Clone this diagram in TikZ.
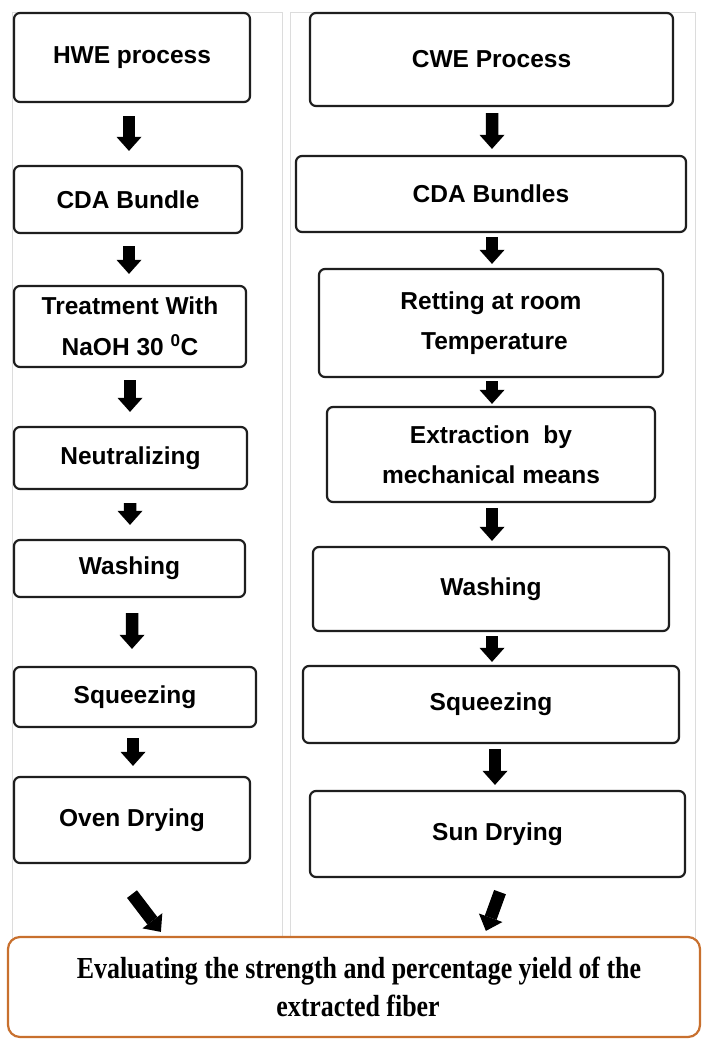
\documentclass[tikz,border=0pt]{standalone}
\usepackage{fontspec}
\setmainfont{Liberation Sans}
\newfontfamily\evalfont[FakeStretch=0.85]{Liberation Serif}
\usetikzlibrary{arrows.meta,calc}
\definecolor{boxline}{HTML}{1E1E1E}
\definecolor{evalorange}{HTML}{C8702E}
\definecolor{panelgray}{HTML}{DCDCDC}
\tikzset{
  stepbox/.style={draw=boxline, line width=2.2bp, rounded corners=6bp, fill=white,
    inner sep=0pt, align=center, text=black,
    font=\fontsize{24.5bp}{40bp}\selectfont\bfseries},
  evalbox/.style={draw=evalorange, line width=2.2bp, rounded corners=12bp, fill=white,
    inner sep=0pt, align=center, text=black,
    font=\evalfont\fontsize{30.5bp}{38bp}\selectfont\bfseries},
  panel/.style={draw=panelgray, line width=1bp},
  blockarr/.style={draw=black, line width=12.5bp,
    -{Triangle[width=25bp,length=14bp,line width=0pt]}},
}
\begin{document}
\begin{tikzpicture}[x=1bp,y=-1bp]
\useasboundingbox[fill=white] (0,0) rectangle (702,1039);

% panels
\draw[panel] (12,12) rectangle (282,938);
\draw[panel] (290,12) rectangle (695,938);

% left column
\node[stepbox, minimum width=236bp, minimum height=89bp] (hwe)   at (132,57.5)  {HWE process};
\node[stepbox, minimum width=228bp, minimum height=67bp] (cda1)  at (128,199.5) {CDA Bundle};
\node[stepbox, minimum width=232bp, minimum height=81bp,
      font=\fontsize{24.5bp}{41bp}\selectfont\bfseries] (naoh)  at (130,326.5) {Treatment With\\NaOH 30 \textsuperscript{0}C};
\node[stepbox, minimum width=233bp, minimum height=62bp] (neut)  at (130.5,458) {Neutralizing};
\node[stepbox, minimum width=231bp, minimum height=57bp] (wash1) at (129.5,568.5) {Washing};
\node[stepbox, minimum width=242bp, minimum height=60bp] (sqz1)  at (135,697)   {Squeezing};
\node[stepbox, minimum width=236bp, minimum height=86bp] (oven)  at (132,820)   {Oven Drying};

% right column
\node[stepbox, minimum width=363bp, minimum height=93bp]  (cwe)   at (491.5,59.5) {CWE Process};
\node[stepbox, minimum width=390bp, minimum height=76bp]  (cda2)  at (491,194)    {CDA Bundles};
\node[stepbox, minimum width=344bp, minimum height=108bp] (ret)   at (491,323)    {Retting at room\\\ Temperature};
\node[stepbox, minimum width=328bp, minimum height=95bp]  (ext)   at (491,454.5)  {Extraction\ \ by\\mechanical means};
\node[stepbox, minimum width=356bp, minimum height=84bp]  (wash2) at (491,589)    {Washing};
\node[stepbox, minimum width=376bp, minimum height=77bp]  (sqz2)  at (491,704.5)  {Squeezing};
\node[stepbox, minimum width=375bp, minimum height=86bp]  (sun)   at (497.5,834)  {Sun Drying};

% bottom box
\node[evalbox, minimum width=692bp, minimum height=100bp] (eval) at (354,987)
  {\hspace*{10bp}Evaluating the strength and percentage yield of the\\\hspace*{8bp}extracted fiber};

% left arrows
\draw[blockarr] ($(hwe.south)+(-3,13)$)    -- ($(cda1.north)+(1,-14)$);
\draw[blockarr] ($(cda1.south)+(1,12)$)    -- ($(naoh.north)+(-1,-11)$);
\draw[blockarr] ($(naoh.south)+(0,12)$)    -- ($(neut.north)+(-0.5,-14)$);
\draw[blockarr] ($(neut.south)+(-0.5,13)$) -- ($(wash1.north)+(0.5,-14)$);
\draw[blockarr] ($(wash1.south)+(2.5,15)$) -- ($(sqz1.north)+(-3,-17)$);
\draw[blockarr] ($(sqz1.south)+(-2,10)$)   -- ($(oven.north)+(1,-10)$);
\draw[blockarr] ($(oven.south)+(0,30)$)    -- ($(eval.north west)+(154,-4)$);

% right arrows
\draw[blockarr] ($(cwe.south)+(0.5,6)$)    -- ($(cda2.north)+(1,-6)$);
\draw[blockarr] ($(cda2.south)+(1,4)$)     -- ($(ret.north)+(1,-4)$);
\draw[blockarr] ($(ret.south)+(1,3)$)      -- ($(ext.north)+(1,-2)$);
\draw[blockarr] ($(ext.south)+(1,5)$)      -- ($(wash2.north)+(1,-5)$);
\draw[blockarr] ($(wash2.south)+(1,4)$)    -- ($(sqz2.north)+(1,-3)$);
\draw[blockarr] ($(sqz2.south)+(4,5)$)     -- ($(sun.north)+(-2.5,-5)$);
\draw[blockarr] ($(sun.south)+(2.5,14)$)   -- ($(eval.north west)+(479,-5)$);
\end{tikzpicture}
\end{document}
